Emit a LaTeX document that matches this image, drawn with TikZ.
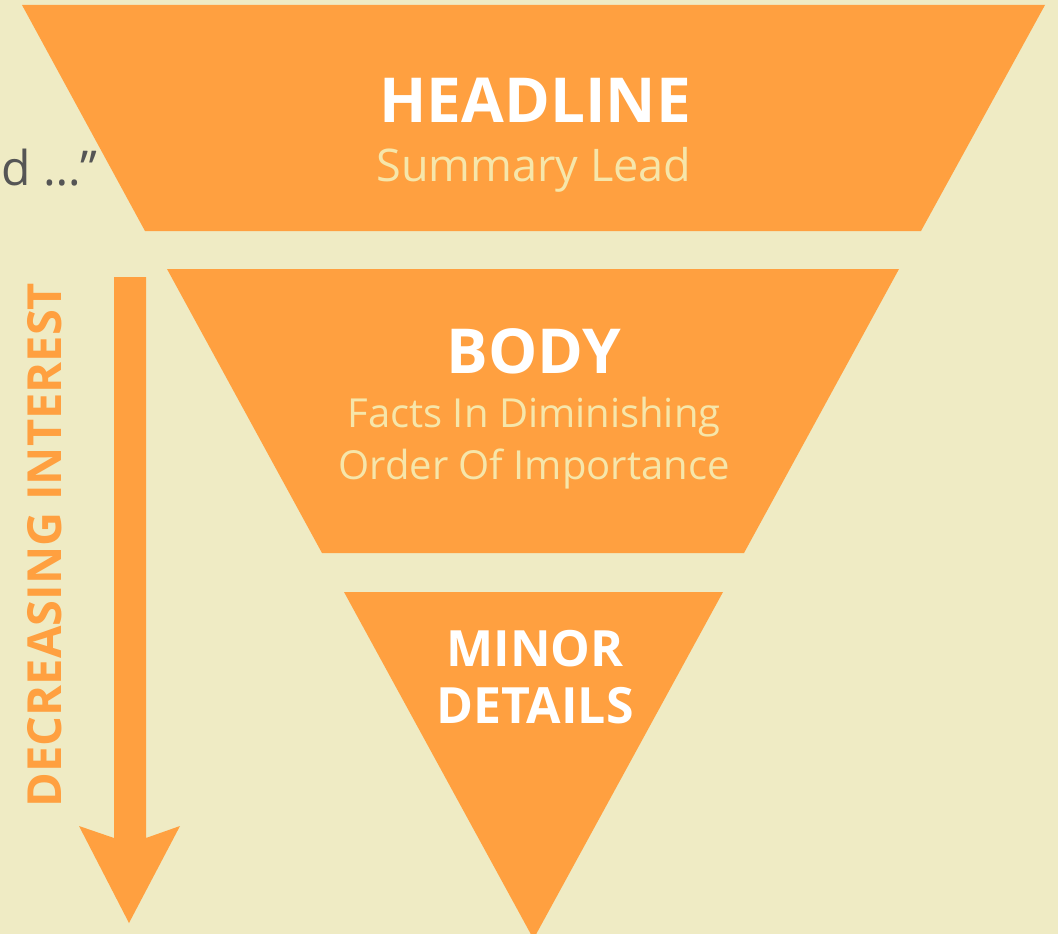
\documentclass[tikz,border=0pt]{standalone}
\usepackage{fontspec}
\setmainfont{Open Sans}
\definecolor{bgcol}{RGB}{239,235,196}
\definecolor{orng}{RGB}{255,160,64}
\definecolor{sub}{RGB}{246,230,170}
\definecolor{gr}{RGB}{85,85,85}
\tikzset{
  shapefill/.style={fill=orng,draw=none},
  title/.style={text=white,font=\bfseries\fontsize{62}{66}\selectfont,inner sep=0pt},
  subtitle/.style={text=sub,font=\fontsize{40}{52}\selectfont,align=center,inner sep=0pt},
}
\begin{document}
\begin{tikzpicture}[x=1pt,y=-1pt]
\fill[bgcol] (0,0) rectangle (1058,934);
\useasboundingbox (0,0) rectangle (1058,934);
\begin{scope}
\clip (0,0) rectangle (1058,934);
% side text
\node[text=gr,font=\fontsize{48}{52}\selectfont,anchor=west,inner sep=0pt] (cut) at (1,168) {d …”};
% shapes
\path[shapefill] (22,5) -- (1045,5) -- (921,231) -- (145,231) -- cycle;
\path[shapefill] (167,269) -- (899,269) -- (744,553) -- (322,553) -- cycle;
\path[shapefill] (344,592) -- (723,592) -- (533.5,939) -- cycle;
% arrow
\coordinate (atop) at (130,277);
\coordinate (atip) at (129,923);
\path[shapefill] (114,277) -- (146,277) -- (146,838) -- (180,826) -- (atip) -- (79,826) -- (114,838) -- cycle;
\end{scope}
\node[text=orng,font=\bfseries\fontsize{47}{50}\selectfont,rotate=90,inner sep=0pt] (lbl) at (45,545) {DECREASING INTEREST};
% texts
\node[title] (head) at (535,100) {HEADLINE};
\node[subtitle,font=\fontsize{45}{52}\selectfont] (headsub) at (534,170) {Summary Lead};
\node[title] (body) at (534,351) {BODY};
\node[subtitle] (bodysub) at (534,443) {Facts In Diminishing\\Order Of Importance};
\node[title,font=\bfseries\fontsize{50}{57}\selectfont,align=center] (minor) at (535,677) {MINOR\\DETAILS};
\end{tikzpicture}
\end{document}
